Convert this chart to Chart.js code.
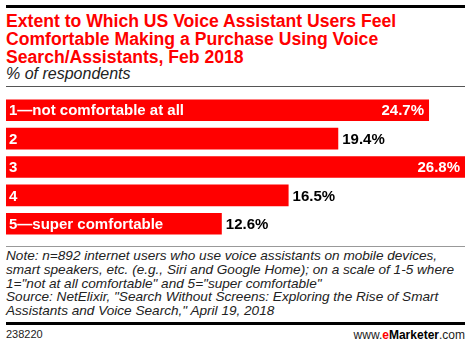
<!DOCTYPE html>
<html>
<head>
<meta charset="utf-8">
<script src="https://cdn.jsdelivr.net/npm/chart.js@4.4.0/dist/chart.umd.min.js"></script>
<style>
  body { margin: 0; width: 470px; height: 347px; background: #fff; position: relative; overflow: hidden; font-family: "Liberation Sans", Arial, sans-serif; }
  .abs { position: absolute; }
  #topRule { left: 6px; top: 5px; width: 459px; height: 3px; background: #000; }
  #title { left: 6px; top: 12px; width: 464px; color: #f00; font-weight: bold; font-size: 17.6px; line-height: 18px; white-space: nowrap; }
  #subtitle { left: 6px; top: 65px; font-style: italic; font-size: 16px; line-height: 18px; color: #222; }
  #subRule { left: 6px; top: 86px; width: 459px; height: 1px; background: #555; }
  #chartBox { left: 6px; top: 96px; width: 459px; height: 142px; }
  #noteRule { left: 6px; top: 246px; width: 459px; height: 1px; background: #999; }
  #note { left: 6px; top: 249px; width: 464px; font-style: italic; font-size: 13.6px; line-height: 13.8px; color: #222; white-space: nowrap; }
  #botRule { left: 6px; top: 322px; width: 459px; height: 3px; background: #000; }
  #id { left: 6px; top: 328px; font-size: 11px; color: #222; }
  #brand { right: 5px; top: 328px; font-size: 12px; color: #222; }
</style>
</head>
<body>
<div class="abs" id="topRule"></div>
<div class="abs" id="title">Extent to Which US Voice Assistant Users Feel<br>Comfortable Making a Purchase Using Voice<br>Search/Assistants, Feb 2018</div>
<div class="abs" id="subtitle">% of respondents</div>
<div class="abs" id="subRule"></div>
<div class="abs" id="chartBox"><canvas id="chart"></canvas></div>
<div class="abs" id="noteRule"></div>
<div class="abs" id="note">Note: n=892 internet users who use voice assistants on mobile devices,<br>smart speakers, etc. (e.g., Siri and Google Home); on a scale of 1-5 where<br>1="not at all comfortable" and 5="super comfortable"<br>Source: NetElixir, "Search Without Screens: Exploring the Rise of Smart<br>Assistants and Voice Search," April 19, 2018</div>
<div class="abs" id="botRule"></div>
<div class="abs" id="id">238220</div>
<div class="abs" id="brand">www.<b style="color:#f00">e</b><b style="color:#000">Marketer</b>.com</div>
<script>
const categories = ['1\u2014not comfortable at all', '2', '3', '4', '5\u2014super comfortable'];
const values = [24.7, 19.4, 26.8, 16.5, 12.6];

const labelFont = 'bold 15px "Liberation Sans", Arial, sans-serif';

const barLabels = {
  id: 'barLabels',
  afterDatasetsDraw(chart) {
    const ctx = chart.ctx;
    const meta = chart.getDatasetMeta(0);
    const right = chart.chartArea.right;
    ctx.save();
    ctx.font = labelFont;
    ctx.textBaseline = 'middle';
    meta.data.forEach((bar, i) => {
      const y = bar.y + 1;
      ctx.fillStyle = '#fff';
      ctx.textAlign = 'left';
      ctx.fillText(categories[i], bar.base + 3, y);
      const txt = values[i].toFixed(1) + '%';
      const w = ctx.measureText(txt).width;
      if (bar.x + 4 + w > right) {
        ctx.textAlign = 'right';
        ctx.fillText(txt, bar.x - 5, y);
      } else {
        ctx.fillStyle = '#000';
        ctx.textAlign = 'left';
        ctx.fillText(txt, bar.x + 4, y);
      }
    });
    ctx.restore();
  }
};

new Chart(document.getElementById('chart').getContext('2d'), {
  type: 'bar',
  data: {
    labels: categories,
    datasets: [{
      data: values,
      backgroundColor: '#ff0000',
      borderWidth: 0,
      categoryPercentage: 1,
      barPercentage: 0.76
    }]
  },
  options: {
    indexAxis: 'y',
    responsive: true,
    maintainAspectRatio: false,
    animation: false,
    layout: { padding: 0 },
    plugins: { legend: { display: false }, tooltip: { enabled: false } },
    scales: {
      x: { display: false, min: 0, max: 26.8 },
      y: { display: false }
    }
  },
  plugins: [barLabels]
});
</script>
</body>
</html>
